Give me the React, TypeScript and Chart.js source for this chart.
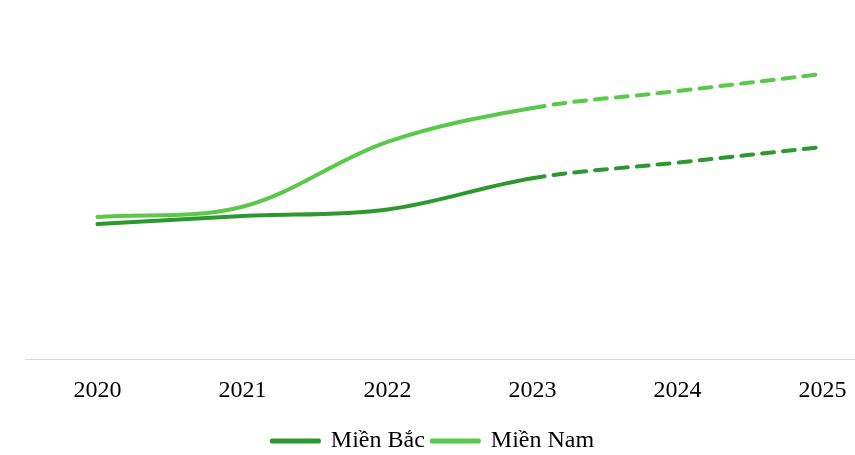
import React, { useEffect, useRef } from 'react';
import { Chart, registerables } from 'chart.js';
Chart.register(...registerables);

const years = ['2020', '2021', '2022', '2023', '2024', '2025'];
const mienBac = [45.0, 47.7, 49.9, 60.3, 65.5, 70.7];
const mienNam = [47.4, 50.8, 72.4, 83.7, 89.3, 95.0];
const forecastFrom = 3; // from 2023 onward the line is a dashed projection

const darkGreen = '#2e9830';
const lightGreen = '#5ac84a';
const fontFamily = "'Liberation Serif', 'Times New Roman', serif";

export default function App() {
  const ref = useRef<HTMLCanvasElement>(null);
  useEffect(() => {
    document.body.style.overflow = 'hidden';
    const ctx = ref.current!;
    const dash = (c: any) => (c.p0DataIndex >= forecastFrom ? [12, 9] : undefined);
    const chart = new Chart(ctx, {
      type: 'line',
      data: {
        labels: years,
        datasets: [
          {
            label: 'Miền Bắc',
            data: mienBac,
            borderColor: darkGreen,
            backgroundColor: darkGreen,
            borderWidth: 4,
            borderCapStyle: 'round',
            borderJoinStyle: 'round',
            pointRadius: 0,
            tension: 0.35,
            segment: { borderDash: dash },
          },
          {
            label: 'Miền Nam',
            data: mienNam,
            borderColor: lightGreen,
            backgroundColor: lightGreen,
            borderWidth: 4,
            borderCapStyle: 'round',
            borderJoinStyle: 'round',
            pointRadius: 0,
            tension: 0.35,
            segment: { borderDash: dash },
          },
        ],
      },
      options: {
        responsive: false,
        animation: false,
        layout: { padding: { top: 59, left: 0, right: 0, bottom: 4 } },
        plugins: {
          legend: {
            position: 'bottom',
            labels: {
              boxWidth: 47,
              boxHeight: 1,
              padding: 7,
              color: '#000',
              font: { family: fontFamily, size: 24 },
            },
          },
          tooltip: { enabled: false },
        },
        scales: {
          x: {
            offset: true,
            grid: { display: false, drawTicks: false },
            border: { display: true, color: '#d9d9d9', width: 1 },
            ticks: {
              color: '#000',
              padding: 17,
              maxRotation: 0,
              font: { family: fontFamily, size: 24 },
            },
          },
          y: {
            display: true,
            min: 0,
            max: 100,
            grid: { display: false, drawTicks: false },
            border: { display: false },
            ticks: { display: false },
            afterFit: (scale: any) => {
              scale.width = 54;
            },
          },
        },
      },
    });
    return () => chart.destroy();
  }, []);
  return (
    <div style={{ position: 'fixed', left: 0, top: 0, width: 855, height: 455, overflow: 'hidden', background: '#fff' }}>
      <canvas ref={ref} width={924} height={467} style={{ position: 'absolute', left: -29, top: 0 }} />
    </div>
  );
}
